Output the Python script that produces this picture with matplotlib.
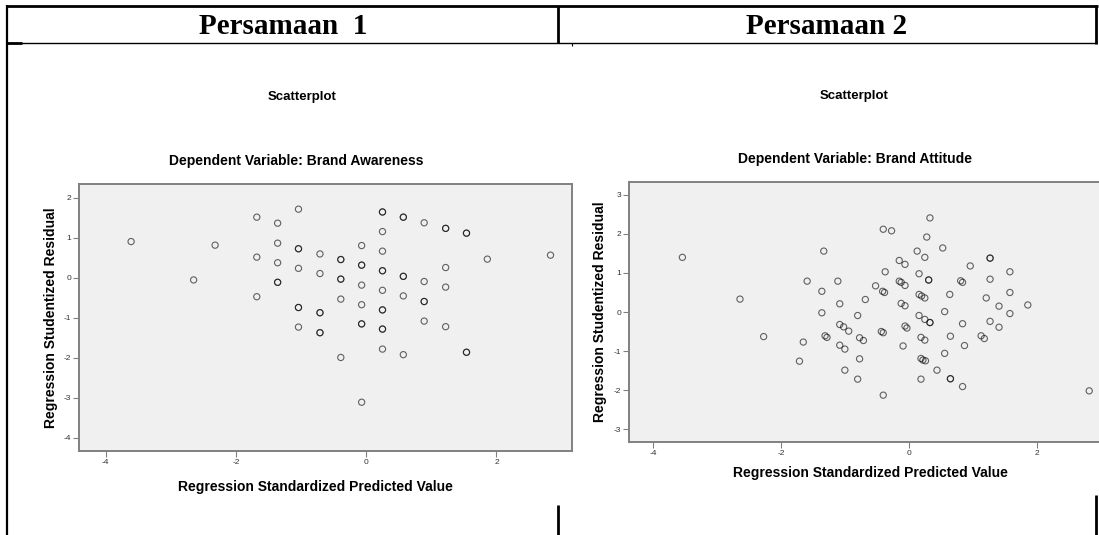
import matplotlib
matplotlib.use("Agg")
import matplotlib.pyplot as plt
from matplotlib.lines import Line2D

plt.rcParams["axes.unicode_minus"] = False

# ---- data: regression standardized predicted value vs studentized residual ----
pred_1 = [-3.61, -2.65, -2.32,
          -1.68, -1.68, -1.68,
          -1.36, -1.36, -1.36, -1.36, -1.36,
          -1.04, -1.04, -1.04, -1.04, -1.04, -1.04, -1.04,
          -0.71, -0.71, -0.71, -0.71, -0.71, -0.71,
          -0.39, -0.39, -0.39, -0.39, -0.39, -0.39,
          -0.07, -0.07, -0.07, -0.07, -0.07, -0.07, -0.07, -0.07,
          0.25, 0.25, 0.25, 0.25, 0.25, 0.25, 0.25, 0.25, 0.25, 0.25, 0.25, 0.25,
          0.57, 0.57, 0.57, 0.57, 0.57, 0.57,
          0.89, 0.89, 0.89, 0.89, 0.89,
          1.22, 1.22, 1.22, 1.22, 1.22,
          1.54, 1.54, 1.54, 1.54,
          1.86, 2.83]
resid_1 = [0.91, -0.05, 0.82,
           1.52, 0.52, -0.47,
           1.37, 0.87, 0.38, -0.11, -0.11,
           1.72, 0.73, 0.73, 0.24, -0.74, -0.74, -1.23,
           0.60, 0.11, -0.87, -0.87, -1.37, -1.37,
           0.46, 0.46, -0.03, -0.03, -0.53, -1.99,
           0.81, 0.32, 0.32, -0.18, -0.67, -1.15, -1.15, -3.11,
           1.65, 1.65, 1.16, 0.67, 0.18, 0.18, -0.31, -0.80, -0.80, -1.28, -1.28, -1.78,
           1.52, 1.52, 0.04, 0.04, -0.45, -1.92,
           1.38, -0.09, -0.59, -0.59, -1.08,
           1.24, 1.24, 0.26, -0.23, -1.22,
           1.12, 1.12, -1.86, -1.86,
           0.47, 0.57]

pred_2 = [-3.54, -2.64, -2.27, -1.71, -1.65, -1.59, -1.33, -1.36, -1.36, -1.31,
          -1.28, -1.11, -1.08, -1.08, -1.02, -0.94, -1.08, -1.00, -1.00, -0.80,
          -0.80, -0.77, -0.71, -0.77, -0.68, -0.52, -0.41, -0.38, -0.43, -0.40,
          -0.40, -0.37, -0.40, -0.27, -0.15, -0.06, -0.15, -0.12, -0.06, -0.12,
          -0.06, -0.06, -0.03, -0.09, 0.13, 0.16, 0.16, 0.20, 0.25, 0.16,
          0.25, 0.33, 0.33, 0.19, 0.25, 0.19, 0.22, 0.26, 0.19, 0.25,
          0.28, 0.33, 0.31, 0.31, 0.44, 0.53, 0.56, 0.56, 0.64, 0.65,
          0.65, 0.65, 0.81, 0.84, 0.84, 0.87, 0.84, 0.96, 1.13, 1.18,
          1.21, 1.27, 1.27, 1.27, 1.27, 1.41, 1.41, 1.58, 1.58, 1.58,
          1.86, 2.82]
resid_2 = [1.40, 0.33, -0.63, -1.26, -0.77, 0.79, 1.56, 0.53, -0.02, -0.61,
           -0.65, 0.79, 0.21, -0.32, -0.38, -0.49, -0.85, -0.95, -1.49, -0.09,
           -1.72, -0.66, -0.73, -1.20, 0.32, 0.67, 0.53, 0.50, -0.50, -0.53,
           2.12, 1.03, -2.13, 2.08, 1.32, 1.22, 0.79, 0.76, 0.68, 0.22,
           0.16, -0.36, -0.41, -0.87, 1.56, 0.98, 0.45, 0.41, 0.36, -0.09,
           -0.19, -0.27, -0.27, -0.65, -0.72, -1.19, -1.23, -1.25, -1.72, 1.40,
           1.92, 2.41, 0.82, 0.82, -1.49, 1.64, 0.01, -1.06, 0.45, -0.62,
           -1.71, -1.71, 0.80, 0.76, -0.30, -0.86, -1.91, 1.18, -0.61, -0.68,
           0.36, 1.38, 1.38, 0.84, -0.24, 0.15, -0.39, 1.03, 0.50, -0.04,
           0.18, -2.02]

headers = ["Persamaan  1", "Persamaan 2"]
dependents = ["Brand Awareness", "Brand Attitude"]
x_ticks = [-4, -2, 0, 2]
y_ticks_1 = [-4, -3, -2, -1, 0, 1, 2]
y_ticks_2 = [-3, -2, -1, 0, 1, 2, 3]

W, H = 1099, 535
fig = plt.figure(figsize=(W / 100, H / 100), dpi=100)
fig.patch.set_facecolor("white")


def fx(x):
    return x / W


def fy(y):
    return 1 - y / H


def hline(x0, x1, y, lw):
    fig.add_artist(Line2D([fx(x0), fx(x1)], [fy(y), fy(y)], color="black",
                          lw=lw, transform=fig.transFigure, solid_capstyle="butt"))


def vline(x, y0, y1, lw):
    fig.add_artist(Line2D([fx(x), fx(x)], [fy(y0), fy(y1)], color="black",
                          lw=lw, transform=fig.transFigure, solid_capstyle="butt"))


# table frame around the two charts
hline(6, 1098, 6, 2.0)
hline(6, 1097, 43, 1.0)
hline(6, 22, 43, 2.0)
vline(7, 5, 535, 1.6)
vline(558, 6, 43, 2.0)
vline(1096, 5, 44, 2.0)
vline(572, 43, 46, 0.8)
vline(558, 505, 535, 2.0)
vline(1096, 495, 535, 2.0)

for cx, txt in zip([283, 827], headers):
    fig.text(fx(cx), fy(26), txt, ha="center", va="center",
             family="Liberation Serif", weight="bold", fontsize=21)


def scatter_panel(rect, xlim, ylim, yticks, xs, ys):
    ax = fig.add_axes(rect)
    ax.set_facecolor("#f0f0f0")
    ax.scatter(xs, ys, s=20, facecolors="none", edgecolors="black",
               linewidths=0.8, alpha=0.6, zorder=3)
    ax.set_xlim(*xlim)
    ax.set_ylim(*ylim)
    ax.set_xticks(x_ticks)
    ax.set_yticks(yticks)
    for sp in ax.spines.values():
        sp.set_color("#808080")
        sp.set_linewidth(1.4)
    ax.tick_params(direction="out", length=4, width=0.8, color="#808080",
                   labelsize=6, labelcolor="#333333", pad=1.5)
    for lab in ax.get_xticklabels() + ax.get_yticklabels():
        lab.set_family("Liberation Sans")
    ax.set_xlabel("Regression Standardized Predicted Value",
                  family="Liberation Sans", weight="bold", fontsize=10)
    ax.set_ylabel("Regression Studentized Residual",
                  family="Liberation Sans", weight="bold", fontsize=10)
    return ax


ax1 = scatter_panel([fx(79), fy(451), (572 - 79) / W, (451 - 184) / H],
                    (-4.41, 3.16), (-4.33, 2.35), y_ticks_1, pred_1, resid_1)
ax1.xaxis.set_label_coords((315 - 79) / (572 - 79), (451 - 487) / (451 - 184))
ax1.xaxis.label.set_va("center")
ax1.yaxis.set_label_coords((51 - 79) / (572 - 79), 0.5)
ax1.yaxis.label.set_va("center")

ax2 = scatter_panel([fx(629), fy(442), (1102 - 629) / W, (442 - 182) / H],
                    (-4.375, 3.02), (-3.33, 3.33), y_ticks_2, pred_2, resid_2)
ax2.xaxis.set_label_coords((870 - 629) / (1102 - 629), (442 - 473) / (442 - 182))
ax2.xaxis.label.set_va("center")
ax2.yaxis.set_label_coords((600 - 629) / (1102 - 629), 0.5)
ax2.yaxis.label.set_va("center")

for (cx_s, y_s, cx_d, y_d), dep in zip([(302, 97, 296, 161), (854, 96, 855, 159)],
                                        dependents):
    fig.text(fx(cx_s), fy(y_s), "Scatterplot", ha="center", va="center",
             family="Liberation Sans", weight="bold", fontsize=9.5)
    fig.text(fx(cx_d), fy(y_d), "Dependent Variable: " + dep, ha="center",
             va="center", family="Liberation Sans", weight="bold", fontsize=10)

fig.savefig("out.png", dpi=100, facecolor="white")
